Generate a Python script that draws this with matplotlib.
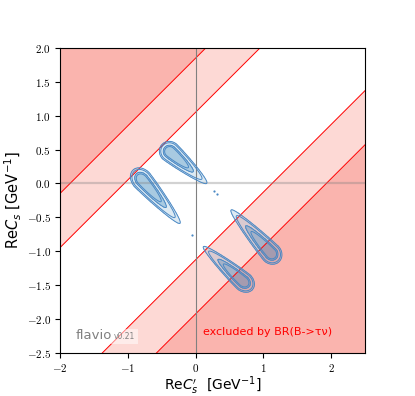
import numpy as np
import matplotlib
matplotlib.use("Agg")
import matplotlib.pyplot as plt
from matplotlib.ticker import FuncFormatter, MultipleLocator

plt.rcParams['mathtext.fontset'] = 'cm'

# BR(B->tau nu) exclusion: boundaries in ReC_s - ReC_s'
excl_bounds = [-1.93, -1.13, 1.05, 1.85]

# allowed islands of the fit: wide end (head), narrow end (tail),
# sigma on the head side and half width
head_x = [-0.50, -0.92, 0.84, 1.23]
head_y = [0.57, 0.20, -1.57, -1.16]
tail_x = [0.165, -0.23, 0.115, 0.524]
tail_y = [0.00, -0.59, -0.935, -0.393]
head_sig = [0.16, 0.20, 0.18, 0.17]
half_width = [0.15, 0.15, 0.14, 0.15]

# tiny stray contour specks
speck_x = [0.278, 0.31, -0.047]
speck_y = [-0.12, -0.16, -0.767]

xmin, xmax, ymin, ymax = -2.0, 2.5, -2.5, 2.0

fig = plt.figure(figsize=(4.15, 3.96), dpi=100)
ax = fig.add_axes([0.1446, 0.1098, 0.735, 0.769])

# red exclusion bands
light = '#fdd9d5'
dark = '#fab4ae'
xs = np.array([xmin - 1, xmax + 1])
ax.fill_between(xs, -10, xs + excl_bounds[0], color=dark, lw=0)
ax.fill_between(xs, xs + excl_bounds[0], xs + excl_bounds[1], color=light, lw=0)
ax.fill_between(xs, xs + excl_bounds[2], xs + excl_bounds[3], color=light, lw=0)
ax.fill_between(xs, xs + excl_bounds[3], 10, color=dark, lw=0)
for c in excl_bounds:
    ax.plot(xs, xs + c, color='red', lw=0.7)

ax.axhline(0, color='gray', lw=1.6, alpha=0.35)
ax.axvline(0, color='gray', lw=0.8)

# likelihood-ish surface built from the islands
X, Y = np.meshgrid(np.linspace(xmin, xmax, 600), np.linspace(ymin, ymax, 600))
chi2 = np.full(X.shape, np.inf)
for hx, hy, tx, ty, sh, w in zip(head_x, head_y, tail_x, tail_y, head_sig, half_width):
    L = np.hypot(tx - hx, ty - hy)
    ex, ey = (tx - hx) / L, (ty - hy) / L
    cx, cy = hx + sh * ex, hy + sh * ey
    st = L - sh
    u = (X - cx) * ex + (Y - cy) * ey
    v = -(X - cx) * ey + (Y - cy) * ex
    su = np.where(u < 0, sh, st)
    sv = w * (1 - 0.4 * np.clip(u / st, 0, 1))
    chi2 = np.minimum(chi2, (u / su) ** 2 + (v / sv) ** 2)

blue = '#1f77b4'
ax.contourf(X, Y, chi2, levels=[0, 1.0], colors=[blue], alpha=0.15)
ax.contourf(X, Y, chi2, levels=[0, 0.4], colors=[blue], alpha=0.28)
ax.contour(X, Y, chi2, levels=[0.25, 0.4, 0.75, 1.0], colors=['#4a88c4'], linewidths=0.7)
ax.plot(speck_x, speck_y, 'o', color='#4a88c4', ms=1.6, mew=0)

ax.set_xlim(xmin, xmax)
ax.set_ylim(ymin, ymax)
ax.xaxis.set_major_locator(MultipleLocator(1))
ax.yaxis.set_major_locator(MultipleLocator(0.5))
ax.xaxis.set_major_formatter(FuncFormatter(lambda v, p: r'$%d$' % round(v)))
ax.yaxis.set_major_formatter(FuncFormatter(lambda v, p: r'$%.1f$' % v))
ax.tick_params(labelsize=8, length=3.5, pad=3)

ax.set_xlabel(r"Re$C_s'$  [GeV$^{-1}$]", fontsize=10, math_fontfamily='dejavusans', labelpad=0.5)
ax.set_ylabel(r"Re$C_s$ [GeV$^{-1}$]", fontsize=10.5, math_fontfamily='dejavusans', labelpad=2)

ax.text(0.469, 0.068, r'excluded by BR(B->τν)', transform=ax.transAxes,
        color='red', fontsize=8, va='center', ha='left')

t1 = ax.text(0.051, 0.043, 'flavio', transform=ax.transAxes, color='gray',
             fontsize=9.5, va='baseline', ha='left')
ax.annotate('v0.21', xy=(1, 0), xycoords=t1, xytext=(1.5, 1.2),
            textcoords='offset points', color='gray', fontsize=5.5,
            va='bottom', ha='left',
            bbox=dict(facecolor='white', edgecolor='none', alpha=0.5, pad=2))

fig.savefig('out.png', dpi=100)
